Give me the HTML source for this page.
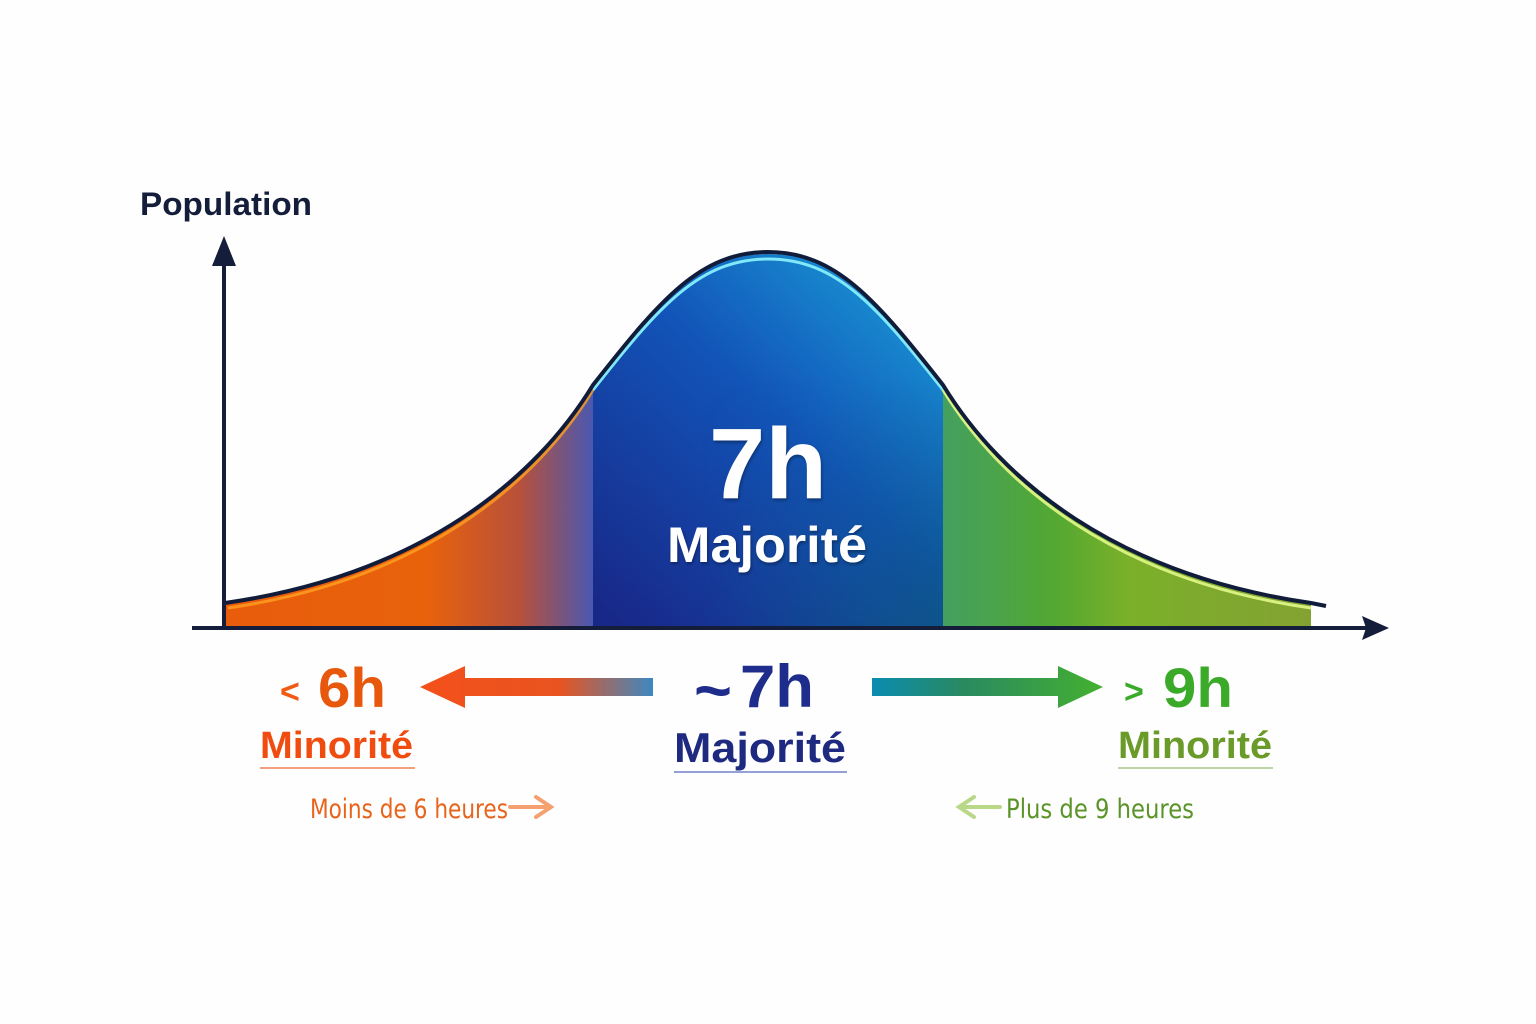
<!DOCTYPE html>
<html><head><meta charset="utf-8"><style>
html,body{margin:0;padding:0;background:#fefefe;}
svg{display:block;}
text{font-family:"Liberation Sans",sans-serif;font-weight:bold;}
.hand{font-family:"DejaVu Sans Condensed","DejaVu Sans",sans-serif;font-weight:normal;}
</style></head><body>
<svg width="1536" height="1024" viewBox="0 0 1536 1024" xmlns="http://www.w3.org/2000/svg">
<defs>
<clipPath id="under"><path d="M225,603 C420,575 535,480 593,385 C660,300 700,254 768,254 C836,254 876,300 943,385 C1001,480 1116,575 1311,603 L1311,627 L225,627 Z"/></clipPath>
<linearGradient id="gL" x1="225" y1="0" x2="593" y2="0" gradientUnits="userSpaceOnUse">
<stop offset="0" stop-color="#e85c0c"/><stop offset="0.55" stop-color="#e8620c"/><stop offset="0.8" stop-color="#b8503a"/><stop offset="1" stop-color="#4a58b0"/></linearGradient>
<linearGradient id="gM" x1="943" y1="280" x2="620" y2="627" gradientUnits="userSpaceOnUse">
<stop offset="0" stop-color="#1a9ed8"/><stop offset="0.45" stop-color="#1254b8"/><stop offset="1" stop-color="#182888"/></linearGradient>
<linearGradient id="gMb" x1="700" y1="0" x2="943" y2="0" gradientUnits="userSpaceOnUse">
<stop offset="0" stop-color="#0a6070" stop-opacity="0"/><stop offset="1" stop-color="#0a5a6a" stop-opacity="0.55"/></linearGradient>
<linearGradient id="gMv" x1="0" y1="380" x2="0" y2="627" gradientUnits="userSpaceOnUse">
<stop offset="0" stop-color="#fff" stop-opacity="0"/><stop offset="1" stop-color="#fff" stop-opacity="1"/></linearGradient>
<mask id="mv"><rect x="593" y="240" width="350" height="390" fill="url(#gMv)"/></mask>
<linearGradient id="gR" x1="943" y1="0" x2="1311" y2="0" gradientUnits="userSpaceOnUse">
<stop offset="0" stop-color="#44a060"/><stop offset="0.3" stop-color="#52a832"/><stop offset="0.5" stop-color="#7ab02a"/><stop offset="1" stop-color="#84a232"/></linearGradient>
<linearGradient id="aL" x1="420" y1="0" x2="653" y2="0" gradientUnits="userSpaceOnUse">
<stop offset="0" stop-color="#f4501a"/><stop offset="0.6" stop-color="#e85420"/><stop offset="1" stop-color="#3e88c0"/></linearGradient>
<linearGradient id="aR" x1="872" y1="0" x2="1103" y2="0" gradientUnits="userSpaceOnUse">
<stop offset="0" stop-color="#0a8cb0"/><stop offset="0.4" stop-color="#2a8a60"/><stop offset="1" stop-color="#44b030"/></linearGradient>
<filter id="sh"><feDropShadow dx="1" dy="2" stdDeviation="1.5" flood-color="#000" flood-opacity="0.35"/></filter>
</defs>
<g clip-path="url(#under)">
<rect x="225" y="240" width="368" height="390" fill="url(#gL)"/>
<rect x="593" y="240" width="350" height="390" fill="url(#gM)"/>
<rect x="593" y="240" width="350" height="390" fill="url(#gMb)" mask="url(#mv)"/>
<rect x="943" y="240" width="368" height="390" fill="url(#gR)"/>
</g>
<path d="M228,608 C420,580 535,485 593,390" fill="none" stroke="#ffa020" stroke-width="3" opacity="0.8"/>
<path d="M593,390 C660,305 700,259 768,259 C836,259 876,305 943,390" fill="none" stroke="#80e8f8" stroke-width="3"/>
<path d="M943,390 C1001,485 1116,580 1311,608" fill="none" stroke="#d8f080" stroke-width="3"/>
<path d="M225,603 C420,575 535,480 593,385 C660,300 700,252 768,252 C836,252 876,300 943,385 C1001,480 1116,575 1311,603 L1326,606" fill="none" stroke="#101c3a" stroke-width="4"/>
<line x1="224" y1="627" x2="224" y2="258" stroke="#141e3a" stroke-width="4"/>
<polygon points="224,236 212,266 236,266" fill="#141e3a"/>
<line x1="192" y1="628" x2="1370" y2="628" stroke="#141e3a" stroke-width="4"/>
<polygon points="1389,628 1362,616 1366,628 1362,640" fill="#141e3a"/>
<text x="140" y="215" font-size="32" fill="#141e3a" textLength="172" lengthAdjust="spacingAndGlyphs">Population</text>
<g filter="url(#sh)" fill="#fff">
<text x="768" y="498" font-size="100" text-anchor="middle" textLength="118" lengthAdjust="spacingAndGlyphs">7h</text>
<text x="767" y="562" font-size="50" text-anchor="middle" textLength="200" lengthAdjust="spacingAndGlyphs">Majorité</text>
</g>
<polygon points="653,678 465,678 465,666 420,687 465,708 465,696 653,696" fill="url(#aL)"/>
<polygon points="872,678 1058,678 1058,666 1103,687 1058,708 1058,696 872,696" fill="url(#aR)"/>
<text x="280" y="703" font-size="34" fill="#f05a14">&lt;</text>
<text x="318" y="707" font-size="56" fill="#e8580c" textLength="68" lengthAdjust="spacingAndGlyphs">6h</text>
<text x="260" y="758" font-size="38" fill="#f04c10" textLength="153" lengthAdjust="spacingAndGlyphs">Minorité</text>
<line x1="260" y1="768" x2="415" y2="768" stroke="#f08050" stroke-width="1.5"/>
<text class="hand" x="310" y="818" font-size="27" fill="#e8641c" textLength="198" lengthAdjust="spacingAndGlyphs">Moins de 6 heures</text>
<path d="M510,807 L548,807 M536,797 L551,807 L536,817" fill="none" stroke="#f5a070" stroke-width="4" stroke-linecap="round"/>
<text x="694" y="712" font-size="64" fill="#1e2c8c" font-weight="normal" textLength="38" lengthAdjust="spacingAndGlyphs">~</text>
<text x="740" y="707" font-size="60" fill="#1e2c8c" textLength="74" lengthAdjust="spacingAndGlyphs">7h</text>
<text x="674" y="762" font-size="42" fill="#1e2a80" textLength="172" lengthAdjust="spacingAndGlyphs">Majorité</text>
<line x1="674" y1="772" x2="847" y2="772" stroke="#7080c8" stroke-width="1.5"/>
<text x="1124" y="703" font-size="34" fill="#3aaa2a">&gt;</text>
<text x="1163" y="707" font-size="56" fill="#3aaa28" textLength="70" lengthAdjust="spacingAndGlyphs">9h</text>
<text x="1118" y="758" font-size="38" fill="#6a9a28" textLength="154" lengthAdjust="spacingAndGlyphs">Minorité</text>
<line x1="1118" y1="768" x2="1273" y2="768" stroke="#a8c888" stroke-width="1.5"/>
<path d="M1000,807 L962,807 M974,797 L959,807 L974,817" fill="none" stroke="#b8d888" stroke-width="4" stroke-linecap="round"/>
<text class="hand" x="1006" y="818" font-size="27" fill="#5a9428" textLength="188" lengthAdjust="spacingAndGlyphs">Plus de 9 heures</text>
</svg>
</body></html>
